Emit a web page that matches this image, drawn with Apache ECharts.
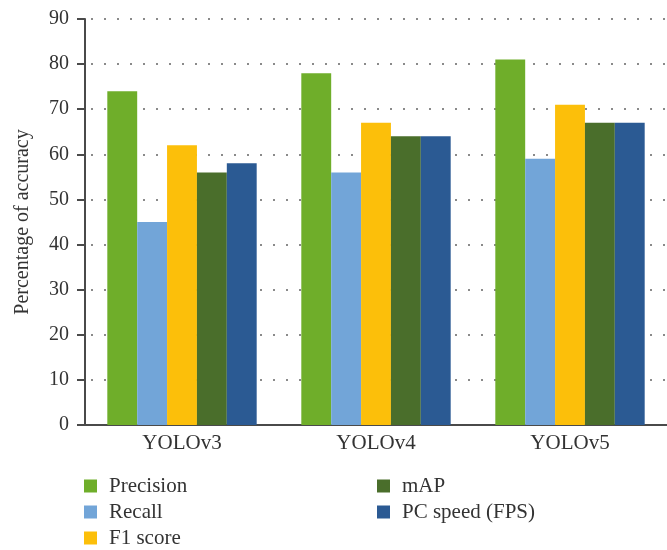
<!DOCTYPE html>
<html>
<head>
<meta charset="utf-8">
<script src="https://cdn.jsdelivr.net/npm/echarts@6/dist/echarts.min.js"></script>
<style>
  html, body { margin: 0; padding: 0; background: #fff; }
  #chart { width: 667px; height: 550px; }
</style>
</head>
<body>
<div id="chart"></div>
<script>
// Detector versions on the category axis
const categories = ['YOLOv3', 'YOLOv4', 'YOLOv5'];

// Metric values per detector (percent)
const precision = [74, 78, 81];
const recall = [45, 56, 59];
const f1Score = [62, 67, 71];
const mAP = [56, 64, 67];
const pcSpeed = [58, 64, 67];

const seriesNames = ['Precision', 'Recall', 'F1 score', 'mAP', 'PC speed (FPS)'];
const seriesValues = [precision, recall, f1Score, mAP, pcSpeed];
const seriesColors = ['#6fae2a', '#72a5d8', '#fcbf0a', '#4a6e2b', '#2b5a93'];

const yTicks = { min: 0, max: 90, interval: 10 };

const font = '"Liberation Serif", "Times New Roman", serif';

// Legend slots: two columns, one entry per series
const legendSlots = [
  { left: 84, top: 475 },
  { left: 84, top: 501 },
  { left: 84, top: 527 },
  { left: 377, top: 475 },
  { left: 377, top: 501 }
];

const chart = echarts.init(document.getElementById('chart'), null, { renderer: 'canvas' });

chart.setOption({
  backgroundColor: '#ffffff',
  animation: false,
  grid: { left: 85, top: 19, width: 588, height: 406, containLabel: false },
  xAxis: {
    type: 'category',
    data: categories,
    axisLine: { lineStyle: { color: '#4a4a4a', width: 2 } },
    axisTick: { show: false },
    axisLabel: { color: '#333', fontFamily: font, fontSize: 21, margin: 8 }
  },
  yAxis: {
    type: 'value',
    min: yTicks.min,
    max: yTicks.max,
    interval: yTicks.interval,
    name: 'Percentage of accuracy',
    nameLocation: 'middle',
    nameGap: 52,
    nameTextStyle: { color: '#333', fontFamily: font, fontSize: 20 },
    axisLine: { show: true, lineStyle: { color: '#4a4a4a', width: 2 } },
    axisTick: { show: true, inside: false, length: 8, lineStyle: { color: '#4a4a4a', width: 2 } },
    axisLabel: { color: '#333', fontFamily: font, fontSize: 20, margin: 16 },
    splitLine: {
      show: true,
      lineStyle: { color: '#8a8a8a', width: 2, type: [2, 11], dashOffset: -6 }
    }
  },
  legend: seriesNames.map((name, i) => ({
    orient: 'vertical',
    left: legendSlots[i].left,
    top: legendSlots[i].top,
    padding: 0,
    itemWidth: 13,
    itemHeight: 13,
    icon: 'rect',
    data: [name],
    textStyle: { color: '#333', fontFamily: font, fontSize: 21, lineHeight: 22, padding: [0, 0, 0, 7] },
    selectedMode: false
  })),
  series: seriesNames.map((name, i) => ({
    name: name,
    type: 'bar',
    data: seriesValues[i],
    barGap: '0%',
    barCategoryGap: '23%',
    itemStyle: { color: seriesColors[i] }
  }))
});
</script>
</body>
</html>
